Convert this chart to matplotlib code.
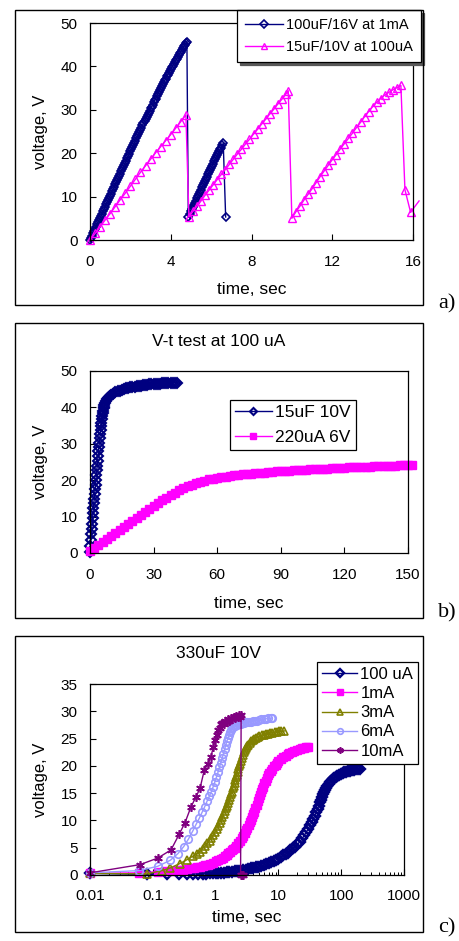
import matplotlib
matplotlib.use('Agg')
import matplotlib.pyplot as plt
from matplotlib.patches import Rectangle
from matplotlib.ticker import LogLocator, NullFormatter

plt.rcParams['font.family'] = ['Liberation Sans', 'DejaVu Sans']
plt.rcParams['axes.linewidth'] = 0.8

W, H = 459, 941
NAVY = '#000080'
MAGENTA = '#FF00FF'
OLIVE = '#808000'
PERI = '#9999FF'
PURPLE = '#800080'

# ---------------- panel a) ----------------
a_blue_label = '100uF/16V at 1mA'
a_blue_t = [0.0, 0.05, 0.1, 0.15, 0.2, 0.25, 0.3, 0.35, 0.4, 0.45,
            0.5, 0.55, 0.6, 0.65, 0.7, 0.75, 0.8, 0.85, 0.9, 0.95,
            1.0, 1.05, 1.1, 1.15, 1.2, 1.25, 1.3, 1.35, 1.4, 1.45,
            1.5, 1.55, 1.6, 1.65, 1.7, 1.75, 1.8, 1.85, 1.9, 1.95,
            2.0, 2.05, 2.1, 2.15, 2.2, 2.25, 2.3, 2.35, 2.4, 2.45,
            2.5, 2.55, 2.6, 2.65, 2.7, 2.75, 2.8, 2.85, 2.9, 2.95,
            3.0, 3.05, 3.1, 3.15, 3.2, 3.25, 3.3, 3.35, 3.4, 3.45,
            3.5, 3.55, 3.6, 3.65, 3.7, 3.75, 3.8, 3.85, 3.9, 3.95,
            4.0, 4.05, 4.1, 4.15, 4.2, 4.25, 4.3, 4.35, 4.4, 4.45,
            4.5, 4.55, 4.6, 4.65, 4.7, 4.75, 4.8, 4.87,
            4.95, 5.0, 5.05, 5.1, 5.15, 5.2, 5.25, 5.3, 5.35, 5.4,
            5.45, 5.5, 5.55, 5.6, 5.65, 5.7, 5.75, 5.8, 5.85, 5.9,
            5.95, 6.0, 6.05, 6.1, 6.15, 6.2, 6.25, 6.3, 6.35, 6.4,
            6.45, 6.5, 6.55, 6.6, 6.72]
a_blue_v = [0.0, 0.5, 1.0, 1.5, 2.0, 2.6, 3.1, 3.6, 4.1, 4.6,
            5.1, 5.6, 6.1, 6.6, 7.1, 7.7, 8.2, 8.7, 9.2, 9.7,
            10.2, 10.7, 11.2, 11.7, 12.2, 12.8, 13.3, 13.8, 14.3, 14.8,
            15.3, 15.8, 16.3, 16.8, 17.3, 17.8, 18.3, 18.9, 19.4, 19.9,
            20.4, 20.9, 21.4, 21.9, 22.4, 22.9, 23.4, 23.9, 24.4, 24.9,
            25.4, 25.9, 26.4, 26.9, 27.4, 27.8, 28.3, 28.8, 29.3, 29.8,
            30.3, 30.7, 31.2, 31.7, 32.2, 32.6, 33.1, 33.6, 34.1, 34.5,
            35.0, 35.4, 35.9, 36.3, 36.8, 37.2, 37.7, 38.1, 38.5, 39.0,
            39.4, 39.8, 40.2, 40.6, 41.0, 41.4, 41.8, 42.2, 42.6, 43.0,
            43.4, 43.8, 44.2, 44.6, 45.0, 45.3, 45.7, 5.3,
            6.1, 6.6, 7.1, 7.6, 8.1, 8.6, 9.1, 9.6, 10.1, 10.6,
            11.1, 11.6, 12.1, 12.6, 13.1, 13.6, 14.1, 14.6, 15.1, 15.6,
            16.1, 16.6, 17.1, 17.6, 18.1, 18.6, 19.1, 19.5, 20.0, 20.4,
            20.9, 21.3, 21.8, 22.3, 5.3]

a_pink_label = '15uF/10V at 100uA'
a_pink_t = [0.0, 0.25, 0.5, 0.75, 1.0, 1.25, 1.5, 1.75, 2.0, 2.25,
            2.5, 2.75, 3.0, 3.25, 3.5, 3.75, 4.0, 4.25, 4.5, 4.75,
            4.9, 5.1, 5.3, 5.5, 5.7, 5.9, 6.1, 6.3, 6.5, 6.7,
            6.9, 7.1, 7.3, 7.5, 7.7, 7.9, 8.1, 8.3, 8.5, 8.7,
            8.9, 9.1, 9.3, 9.5, 9.7, 9.82,
            10.0, 10.2, 10.4, 10.6, 10.8, 11.0, 11.2, 11.4, 11.6, 11.8,
            12.0, 12.2, 12.4, 12.6, 12.8, 13.0, 13.2, 13.4, 13.6, 13.8,
            14.0, 14.2, 14.4, 14.6, 14.8, 15.0, 15.2, 15.4,
            15.6, 15.88, 16.3]
a_pink_v = [0.0, 1.5, 3.0, 4.6, 6.1, 7.7, 9.3, 10.8, 12.4, 14.0,
            15.6, 17.1, 18.6, 20.1, 21.5, 22.9, 24.3, 25.8, 27.3, 28.8,
            5.3, 6.6, 7.8, 9.0, 10.3, 11.5, 12.7, 13.9, 15.1, 16.2,
            17.4, 18.6, 19.8, 20.9, 22.1, 23.2, 24.4, 25.5, 26.7, 27.8,
            29.0, 30.1, 31.3, 32.4, 33.6, 34.4,
            5.0, 6.5, 7.8, 9.2, 10.5, 11.8, 13.2, 14.6, 15.9, 17.2,
            18.5, 19.7, 21.0, 22.2, 23.4, 24.6, 25.9, 27.1, 28.4, 29.6,
            30.7, 31.7, 32.6, 33.4, 34.0, 34.6, 35.1, 35.6,
            11.6, 6.4, 9.0]
a_xticks = [0, 4, 8, 12, 16]
a_yticks = [0, 10, 20, 30, 40, 50]

# ---------------- panel b) ----------------
b_title = 'V-t test at 100 uA'
b_blue_label = '15uF 10V'
b_blue_t = [0.0, 0.2, 0.4, 0.6, 0.8, 1.0, 1.2, 1.4, 1.6, 1.8,
            2.0, 2.2, 2.4, 2.6, 2.8, 3.0, 3.2, 3.4, 3.6, 3.8,
            4.0, 4.2, 4.4, 4.6, 4.8, 5.0, 5.2, 5.4, 5.6, 5.8,
            6.0, 6.2, 6.4, 6.6, 6.8, 7.0, 7.5, 8.0, 8.5, 9.0,
            9.5, 10, 11, 12, 13, 14, 15, 16, 17, 18,
            19, 20, 21, 22, 23, 24, 25, 26, 27, 28,
            29, 30, 31, 32, 33, 34, 35, 36, 37, 38,
            39, 40, 41]
b_blue_v = [0.4, 2.0, 3.6, 5.1, 6.6, 8.1, 9.5, 10.9, 12.3, 13.6,
            14.9, 16.2, 17.5, 18.8, 20.1, 21.4, 22.7, 24.0, 25.3, 26.6,
            27.9, 29.1, 30.3, 31.5, 32.6, 33.7, 34.8, 35.8, 36.7, 37.6,
            38.4, 39.1, 39.7, 40.2, 40.7, 41.1, 41.8, 42.2, 42.6, 42.9,
            43.2, 43.4, 43.8, 44.1, 44.4, 44.6, 44.8, 45.0, 45.2, 45.3,
            45.5, 45.6, 45.7, 45.8, 45.9, 46.0, 46.1, 46.1, 46.2, 46.3,
            46.3, 46.4, 46.4, 46.5, 46.5, 46.6, 46.6, 46.7, 46.7, 46.7,
            46.8, 46.8, 46.8]

b_pink_label = '220uA 6V'
b_pink_t = [0, 2, 4, 6, 8, 10, 12, 14, 16, 18,
            20, 22, 24, 26, 28, 30, 32, 34, 36, 38,
            40, 42, 44, 46, 48, 50, 52, 54, 56, 58,
            60, 62, 64, 66, 68, 70, 72, 74, 76, 78,
            80, 82, 84, 86, 88, 90, 92, 94, 96, 98,
            100, 102, 104, 106, 108, 110, 112, 114, 116, 118,
            120, 122, 124, 126, 128, 130, 132, 134, 136, 138,
            140, 142, 144, 146, 148, 150, 152]
b_pink_v = [0.6, 1.4, 2.3, 3.1, 3.9, 4.8, 5.6, 6.4, 7.2, 8.1,
            8.9, 9.7, 10.5, 11.3, 12.1, 12.9, 13.7, 14.5, 15.2, 15.9,
            16.6, 17.2, 17.8, 18.3, 18.8, 19.2, 19.6, 19.9, 20.2, 20.4,
            20.6, 20.8, 21.0, 21.2, 21.3, 21.5, 21.6, 21.7, 21.8, 21.9,
            22.0, 22.1, 22.2, 22.3, 22.4, 22.5, 22.5, 22.6, 22.7, 22.8,
            22.8, 22.9, 23.0, 23.0, 23.1, 23.2, 23.2, 23.3, 23.3, 23.4,
            23.4, 23.5, 23.5, 23.6, 23.6, 23.7, 23.7, 23.8, 23.8, 23.9,
            23.9, 24.0, 24.0, 24.1, 24.1, 24.2, 24.2]
b_xticks = [0, 30, 60, 90, 120, 150]
b_yticks = [0, 10, 20, 30, 40, 50]

# ---------------- panel c) ----------------
c_title = '330uF 10V'
c_labels = ['100 uA', '1mA', '3mA', '6mA', '10mA']
c_100uA_t = [0.01, 0.08, 0.17, 0.26, 0.35, 0.44, 0.53, 0.62, 0.71, 0.8,
             0.9, 1.0, 1.1, 1.2, 1.35, 1.5, 1.65, 1.8, 2.0, 2.2,
             2.4, 2.7, 3.0, 3.3, 3.6, 4.0, 4.4, 4.8, 5.3, 5.8,
             6.4, 7.0, 7.7, 8.5, 9.3, 10, 11, 12, 13, 14,
             15.5, 17, 18.5, 20, 22, 24, 26, 28, 30, 32,
             34, 36, 38, 40, 42, 44, 46, 48, 50, 52,
             54, 56, 58, 60, 63, 66, 70, 74, 78, 82,
             87, 92, 98, 105, 112, 120, 130, 140, 150, 162,
             175, 188, 200]
c_100uA_v = [0.3, 0.1, 0.1, 0.1, 0.1, 0.2, 0.2, 0.2, 0.2, 0.3,
             0.3, 0.35, 0.4, 0.4, 0.45, 0.5, 0.55, 0.6, 0.7, 0.75,
             0.8, 0.9, 1.0, 1.1, 1.2, 1.3, 1.4, 1.5, 1.7, 1.8,
             2.0, 2.2, 2.4, 2.6, 2.8, 3.0, 3.3, 3.6, 3.8, 4.1,
             4.5, 4.9, 5.2, 5.6, 6.1, 6.7, 7.3, 7.9, 8.5, 9.1,
             9.7, 10.3, 10.9, 11.5, 12.1, 12.7, 13.3, 13.8, 14.3, 14.8,
             15.2, 15.6, 16.0, 16.3, 16.7, 17.0, 17.3, 17.6, 17.8, 18.0,
             18.2, 18.3, 18.5, 18.6, 18.8, 18.9, 19.0, 19.1, 19.2, 19.3,
             19.4, 19.5, 19.5]
c_1mA_t = [0.01, 0.06, 0.12, 0.16, 0.2, 0.25, 0.3, 0.35, 0.4, 0.45,
           0.5, 0.56, 0.62, 0.68, 0.75, 0.82, 0.9, 1.0, 1.1, 1.2,
           1.3, 1.4, 1.5, 1.6, 1.7, 1.8, 1.9, 2.0, 2.15, 2.3,
           2.45, 2.6, 2.75, 2.9, 3.05, 3.2, 3.35, 3.5, 3.65, 3.8,
           3.95, 4.1, 4.3, 4.5, 4.7, 4.9, 5.1, 5.3, 5.5, 5.75,
           6.0, 6.3, 6.6, 6.9, 7.2, 7.6, 8.0, 8.5, 9.0, 9.5,
           10, 11, 12, 13, 14, 15, 16.5, 18, 20, 22,
           24, 26, 28, 30]
c_1mA_v = [0.3, 0.4, 0.6, 0.7, 0.8, 0.9, 1.0, 1.1, 1.2, 1.3,
           1.4, 1.5, 1.6, 1.8, 1.9, 2.0, 2.2, 2.5, 2.7, 3.0,
           3.2, 3.5, 3.7, 4.0, 4.2, 4.5, 4.7, 5.0, 5.4, 5.9,
           6.3, 6.8, 7.2, 7.7, 8.2, 8.7, 9.2, 9.7, 10.1, 10.6,
           11.1, 11.6, 12.3, 12.9, 13.5, 14.1, 14.7, 15.2, 15.7, 16.2,
           16.8, 17.3, 17.8, 18.3, 18.7, 19.1, 19.5, 19.9, 20.2, 20.5,
           20.8, 21.2, 21.6, 21.8, 22.1, 22.3, 22.5, 22.7, 22.9, 23.0,
           23.2, 23.3, 23.4, 23.5]
c_3mA_t = [0.01, 0.08, 0.14, 0.19, 0.27, 0.35, 0.44, 0.5, 0.56, 0.62,
           0.68, 0.74, 0.8, 0.86, 0.92, 0.98, 1.04, 1.1, 1.16, 1.22,
           1.28, 1.34, 1.4, 1.46, 1.52, 1.58, 1.64, 1.7, 1.76, 1.82,
           1.88, 1.94, 2.0, 2.06, 2.12, 2.18, 2.24, 2.3, 2.36, 2.42,
           2.5, 2.6, 2.7, 2.8, 2.9, 3.0, 3.15, 3.3, 3.5, 3.7,
           3.9, 4.1, 4.4, 4.7, 5.0, 5.4, 5.8, 6.3, 6.8, 7.4,
           8.0, 8.7, 9.5, 10.3, 11.2, 12.5]
c_3mA_v = [0.3, 0.2, 0.8, 1.3, 2.1, 2.8, 3.5, 3.9, 4.3, 4.8,
           5.3, 5.8, 6.3, 6.8, 7.3, 7.9, 8.4, 8.9, 9.5, 10.0,
           10.6, 11.1, 11.7, 12.2, 12.7, 13.2, 13.7, 14.3, 14.8, 15.3,
           15.9, 16.4, 16.9, 17.4, 17.9, 18.4, 18.9, 19.4, 19.9, 20.3,
           20.9, 21.5, 22.0, 22.5, 22.9, 23.2, 23.6, 23.9, 24.2, 24.5,
           24.7, 24.9, 25.1, 25.3, 25.4, 25.6, 25.7, 25.8, 25.9, 26.0,
           26.1, 26.2, 26.2, 26.3, 26.3, 26.4]
c_6mA_t = [0.01, 0.06, 0.12, 0.19, 0.25, 0.31, 0.37, 0.43, 0.49, 0.55,
           0.61, 0.67, 0.73, 0.79, 0.85, 0.91, 0.97, 1.03, 1.09, 1.15,
           1.21, 1.27, 1.33, 1.39, 1.45, 1.51, 1.57, 1.63, 1.69, 1.75,
           1.81, 1.9, 2.0, 2.1, 2.2, 2.35, 2.5, 2.65, 2.8, 3.0,
           3.2, 3.4, 3.6, 3.9, 4.2, 4.5, 4.9, 5.3, 5.8, 6.3,
           6.9, 7.5, 8.0]
c_6mA_v = [0.4, 0.8, 1.6, 2.7, 3.9, 5.2, 6.6, 8.0, 9.3, 10.4,
           11.5, 12.5, 13.5, 14.4, 15.2, 16.1, 17.0, 17.9, 18.8, 19.7,
           20.6, 21.4, 22.2, 23.0, 23.8, 24.5, 25.1, 25.7, 26.2, 26.6,
           26.9, 27.1, 27.3, 27.4, 27.5, 27.6, 27.7, 27.8, 27.9, 28.0,
           28.0, 28.1, 28.1, 28.2, 28.3, 28.3, 28.4, 28.5, 28.5, 28.6,
           28.7, 28.7, 28.8]
c_10mA_t = [0.01, 0.0625, 0.12, 0.195, 0.264, 0.326, 0.406, 0.487, 0.565, 0.66,
            0.75, 0.845, 0.92, 0.98, 1.04, 1.1, 1.16, 1.22, 1.28, 1.35,
            1.42, 1.5, 1.58, 1.66, 1.75, 1.85, 1.95, 2.05, 2.15, 2.25,
            2.35, 2.45, 2.55, 2.5, 2.6, 2.75]
c_10mA_v = [0.4, 1.9, 3.1, 4.6, 7.5, 9.6, 12.5, 14.3, 15.9, 19.2,
            20.3, 21.7, 23.5, 24.7, 25.6, 26.6, 27.0, 27.6, 27.9, 27.7,
            28.2, 28.0, 28.5, 28.3, 28.8, 28.6, 29.0, 28.7, 29.2, 28.9,
            29.3, 29.0, 29.4, 0.0, 0.0, 0.0]
c_xticks = [0.01, 0.1, 1, 10, 100, 1000]
c_xticklabels = ['0.01', '0.1', '1', '10', '100', '1000']
c_yticks = [0, 5, 10, 15, 20, 25, 30, 35]


fig = plt.figure(figsize=(W / 100, H / 100), dpi=100)


def px_rect(x0, y0, x1, y1):
    # pixel box (y measured from top) -> figure fraction [l, b, w, h]
    return [x0 / W, 1 - y1 / H, (x1 - x0) / W, (y1 - y0) / H]


def chart_frame(x0, y0, x1, y1):
    l, b, w, h = px_rect(x0, y0, x1, y1)
    fig.add_artist(Rectangle((l, b), w, h, transform=fig.transFigure,
                             fill=False, ec='black', lw=1.0))


def style_axes(ax, xpad, ypad):
    ax.tick_params(axis='both', which='major', direction='in', length=4,
                   width=0.8, labelsize=11)
    ax.tick_params(axis='x', pad=xpad)
    ax.tick_params(axis='y', pad=ypad)
    for s in ax.spines.values():
        s.set_linewidth(0.9)


def put_labels(ax, xl_y, yl_x):
    ax.set_xlabel('time, sec', fontsize=12.5)
    ax.set_ylabel('voltage, V', fontsize=12)
    ax.xaxis.set_label_coords(0.5, xl_y)
    ax.yaxis.set_label_coords(yl_x, 0.5)
    ax.xaxis.label.set_va('center')
    ax.yaxis.label.set_va('center')


def legend_at(ax, x0, y0, fs, **kw):
    return ax.legend(loc='upper left', bbox_to_anchor=(x0 / W, 1 - y0 / H),
                     bbox_transform=fig.transFigure, borderaxespad=0,
                     fontsize=fs, fancybox=False, edgecolor='black',
                     framealpha=1, **kw)


# ---- a) ----
chart_frame(15, 10, 423, 305)
ax_a = fig.add_axes(px_rect(90, 23, 413, 240))
ax_a.plot(a_blue_t, a_blue_v, color=NAVY, lw=1.0, marker='D', ms=4.2,
          mfc='none', mec=NAVY, mew=1.2, clip_on=False, label=a_blue_label)
ax_a.plot(a_pink_t[:-1], a_pink_v[:-1], color=MAGENTA, lw=1.0, marker='^',
          ms=5.5, mfc='none', mec=MAGENTA, mew=1.0, clip_on=False,
          label=a_pink_label)
ax_a.plot(a_pink_t[-2:], a_pink_v[-2:], color=MAGENTA, lw=1.0, clip_on=False)
ax_a.set_xlim(0, 16)
ax_a.set_ylim(0, 50)
ax_a.set_xticks(a_xticks)
ax_a.set_yticks(a_yticks)
style_axes(ax_a, 10.5, 9.0)
put_labels(ax_a, -0.230, -0.152)
leg_a = legend_at(ax_a, 237, 10, 10.5, borderpad=0.55, labelspacing=0.55,
                  handlelength=2.6, handletextpad=0.2, markerscale=0.9,
                  shadow={'color': '0.35', 'alpha': 1})
leg_a.get_frame().set_linewidth(0.9)

# ---- b) ----
chart_frame(15, 323, 423, 618)
ax_b = fig.add_axes(px_rect(90, 371, 408, 553))
ax_b.plot(b_blue_t, b_blue_v, color=NAVY, lw=1.0, marker='D', ms=5.0,
          mfc='none', mec=NAVY, mew=1.5, clip_on=False, label=b_blue_label)
ax_b.plot(b_pink_t, b_pink_v, color=MAGENTA, lw=1.0, marker='s', ms=6.0,
          mfc=MAGENTA, mec=MAGENTA, mew=1.0, clip_on=False, label=b_pink_label)
ax_b.set_xlim(0, 150)
ax_b.set_ylim(0, 50)
ax_b.set_xticks(b_xticks)
ax_b.set_yticks(b_yticks)
style_axes(ax_b, 10.8, 9.0)
put_labels(ax_b, -0.275, -0.157)
ax_b.text((219 - 90) / 318, (553 - 342) / 182, b_title, transform=ax_b.transAxes,
          ha='center', va='center', fontsize=12.5)
leg_b = legend_at(ax_b, 230, 400, 12.5, borderpad=0.3, labelspacing=0.55,
                  handlelength=2.1, handletextpad=0.2, markerscale=0.72)
leg_b.get_frame().set_linewidth(0.9)

# ---- c) ----
chart_frame(15, 636, 423, 932)
ax_c = fig.add_axes(px_rect(90, 684, 404, 875))
c_series = [(c_100uA_t, c_100uA_v, NAVY, 'D', 5.0, 'none', 1.7),
            (c_1mA_t, c_1mA_v, MAGENTA, 's', 6.4, MAGENTA, 1.0),
            (c_3mA_t, c_3mA_v, OLIVE, '^', 5.6, 'none', 1.2),
            (c_6mA_t, c_6mA_v, PERI, 'o', 5.4, 'none', 1.2),
            (c_10mA_t, c_10mA_v, PURPLE, (6, 2, 0), 6.2, PURPLE, 1.2)]
for (t, v, col, mk, ms, mfc, mew), lab in zip(c_series, c_labels):
    ax_c.plot(t, v, color=col, lw=1.0, marker=mk, ms=ms, mfc=mfc, mec=col,
              mew=mew, clip_on=False, label=lab)
ax_c.set_xscale('log')
ax_c.set_xlim(0.01, 1000)
ax_c.set_ylim(0, 35)
ax_c.set_xticks(c_xticks, c_xticklabels)
ax_c.xaxis.set_minor_locator(LogLocator(base=10, subs=range(2, 10), numticks=20))
ax_c.xaxis.set_minor_formatter(NullFormatter())
ax_c.set_yticks(c_yticks)
style_axes(ax_c, 10.0, 9.0)
ax_c.tick_params(axis='x', which='minor', direction='in', length=2.5, width=0.7)
put_labels(ax_c, -0.22, -0.159)
ax_c.text((219 - 90) / 314, (875 - 654) / 191, c_title, transform=ax_c.transAxes,
          ha='center', va='center', fontsize=12.5)
leg_c = legend_at(ax_c, 317, 662, 12, borderpad=0.3, labelspacing=0.25,
                  handlelength=2.1, handletextpad=0.2, markerscale=0.75)
leg_c.get_frame().set_linewidth(0.9)

# panel tags
for tag, yc in [('a)', 304), ('b)', 613), ('c)', 928)]:
    fig.text(438 / W, 1 - yc / H, tag, family='Liberation Serif', fontsize=16,
             ha='left', va='center')

fig.savefig('out.png', dpi=100)
